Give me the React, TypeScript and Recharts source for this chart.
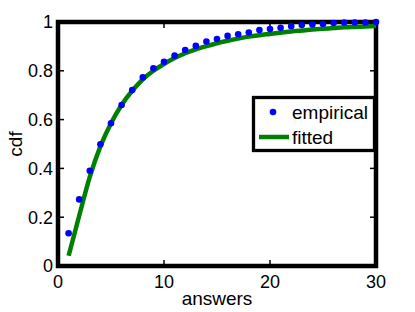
import { ComposedChart, Line, XAxis, YAxis } from 'recharts'

const answers = [1, 2, 3, 4, 5, 6, 7, 8, 9, 10, 11, 12, 13, 14, 15, 16, 17, 18, 19, 20, 21, 22, 23, 24, 25, 26, 27, 28, 29, 30]
const empirical = [0.134, 0.273, 0.39, 0.499, 0.585, 0.66, 0.721, 0.773, 0.81, 0.837, 0.862, 0.885, 0.902, 0.92, 0.93, 0.943, 0.95, 0.957, 0.967, 0.971, 0.976, 0.983, 0.988, 0.99, 0.992, 0.996, 0.998, 0.998, 0.998, 1.0]
const fitted = [0.042, 0.206, 0.365, 0.49, 0.585, 0.66, 0.718, 0.765, 0.8, 0.828, 0.852, 0.872, 0.888, 0.901, 0.913, 0.923, 0.932, 0.94, 0.946, 0.951, 0.956, 0.961, 0.965, 0.969, 0.972, 0.975, 0.978, 0.98, 0.982, 0.984]
const xTicks = [0, 10, 20, 30]
const yTicks = [0, 0.2, 0.4, 0.6, 0.8, 1]

const data = answers.map((x, i) => ({ x, empirical: empirical[i], fitted: fitted[i] }))

const FONT = '"Liberation Sans", Arial, Helvetica, sans-serif'
const W = 415
const H = 312
// plot box, matlab style
const box = { left: 58, top: 22, right: 376, bottom: 266 }

const BottomTick = (props: any) => {
  const { x, y, payload } = props
  return (
    <g>
      <line x1={x} x2={x} y1={y - 9} y2={y - 15} stroke="#000" strokeWidth={1.5} />
      <text x={x} y={y} dy="0.71em" textAnchor="middle" fill="#000" fontSize={18} fontFamily={FONT}>
        {payload.value}
      </text>
    </g>
  )
}

const LeftTick = (props: any) => {
  const { x, y, payload } = props
  return (
    <g>
      <line x1={x + 5} x2={x + 11} y1={y} y2={y} stroke="#000" strokeWidth={1.5} />
      <text x={x} y={y} dy="0.36em" textAnchor="end" fill="#000" fontSize={18} fontFamily={FONT}>
        {String(payload.value)}
      </text>
    </g>
  )
}

const overlay = { position: 'absolute' as const, left: 0, top: 0, pointerEvents: 'none' as const }

// axes box drawn underneath the chart so the dots sit on top like in matlab
function Frame() {
  const bw = box.right - box.left
  const bh = box.bottom - box.top
  return (
    <svg width={W} height={H} style={overlay}>
      <rect x={box.left} y={box.top} width={bw} height={bh} fill="none" stroke="#000" strokeWidth={4.5} />
      {xTicks.slice(1, -1).map((t) => {
        const px = box.left + (t / 30) * bw
        return <line key={'t' + t} x1={px} x2={px} y1={box.top} y2={box.top + 6} stroke="#000" strokeWidth={1.5} />
      })}
      {yTicks.slice(1, -1).map((t) => {
        const py = box.bottom - t * bh
        return <line key={'r' + t} x1={box.right} x2={box.right - 6} y1={py} y2={py} stroke="#000" strokeWidth={1.5} />
      })}
    </svg>
  )
}

function LegendBox() {
  return (
    <svg width={W} height={H} style={overlay}>
      <rect x={253.5} y={97.5} width={121} height={53} fill="#fff" stroke="#000" strokeWidth={3.3} />
      <circle cx={273} cy={112} r={3.3} fill="#0000ff" />
      <text x={292} y={119} fontSize={19} fontFamily={FONT} fill="#000">empirical</text>
      <line x1={259} x2={289} y1={137} y2={137} stroke="#008000" strokeWidth={4.5} />
      <text x={292} y={144} fontSize={19} fontFamily={FONT} fill="#000">fitted</text>
    </svg>
  )
}

export default function App() {
  return (
    <div style={{ position: 'absolute', left: 0, top: 0, width: W, height: H, background: '#fff' }}>
      <Frame />
      <ComposedChart width={W} height={H} data={data} margin={{ top: box.top, right: W - box.right, left: 0, bottom: 0 }}>
        <XAxis
          dataKey="x"
          type="number"
          domain={[0, 30]}
          ticks={xTicks}
          height={H - box.bottom}
          axisLine={false}
          tickLine={false}
          tickSize={0}
          tickMargin={9}
          tick={<BottomTick />}
          label={{ value: 'answers', position: 'insideBottom', offset: 7, fontSize: 19, fill: '#000', fontFamily: FONT }}
        />
        <YAxis
          type="number"
          domain={[0, 1]}
          ticks={yTicks}
          width={box.left}
          axisLine={false}
          tickLine={false}
          tickSize={0}
          tickMargin={5}
          tick={<LeftTick />}
          label={{ value: 'cdf', angle: -90, position: 'insideLeft', offset: 15, fontSize: 19, fill: '#000', fontFamily: FONT, style: { textAnchor: 'middle' } }}
        />
        <Line
          dataKey="empirical"
          stroke="none"
          dot={{ r: 3.3, fill: '#0000ff', stroke: 'none' }}
          activeDot={false}
          isAnimationActive={false}
        />
        <Line
          dataKey="fitted"
          type="monotone"
          stroke="#008000"
          strokeWidth={4.5}
          dot={false}
          activeDot={false}
          isAnimationActive={false}
        />
      </ComposedChart>
      <LegendBox />
    </div>
  )
}
